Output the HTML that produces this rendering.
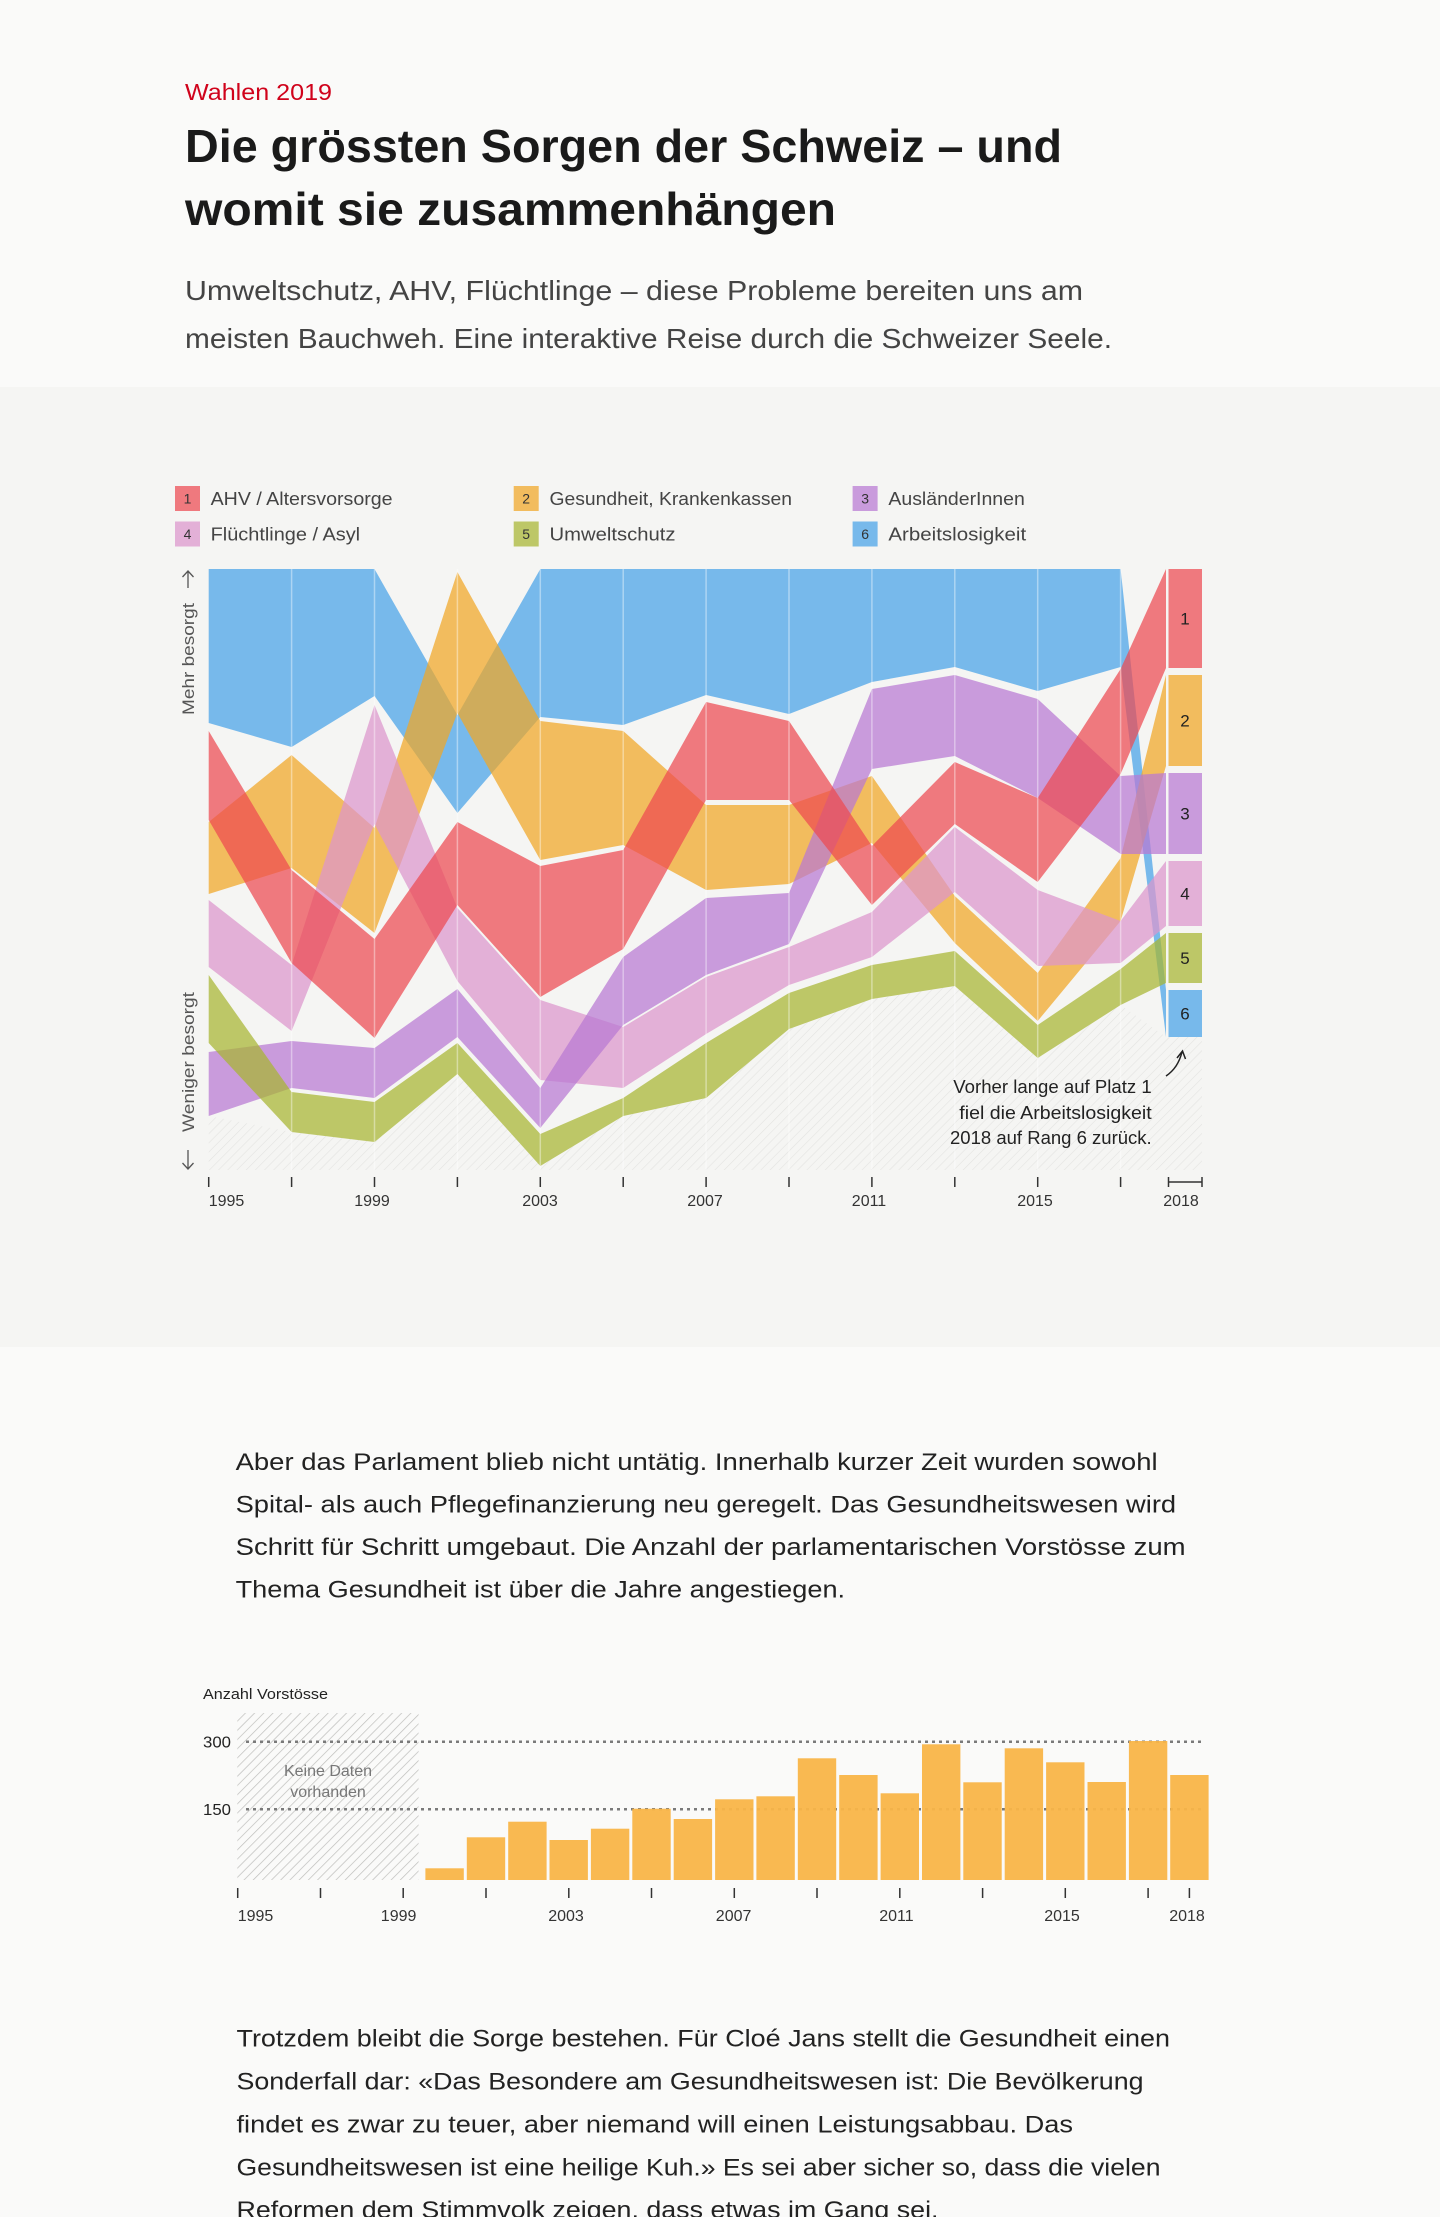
<!DOCTYPE html>
<html><head><meta charset="utf-8"><style>html,body{margin:0;padding:0;background:#fafaf9;}svg{display:block}</style></head>
<body>
<svg width="1440" height="2217" viewBox="0 0 1440 2217" xmlns="http://www.w3.org/2000/svg" font-family="'Liberation Sans', sans-serif">
<defs>
<pattern id="h1" width="6.5" height="6.5" patternUnits="userSpaceOnUse" patternTransform="rotate(45)"><line x1="0" y1="0" x2="0" y2="6.5" stroke="#e3e3e1" stroke-width="1.2"/></pattern>
<pattern id="h2" width="6.5" height="6.5" patternUnits="userSpaceOnUse" patternTransform="rotate(45)"><line x1="0" y1="0" x2="0" y2="6.5" stroke="#bdbdbb" stroke-width="1.4"/></pattern>
</defs>
<rect width="1440" height="2217" fill="#fafaf9"/>
<rect y="387" width="1440" height="960" fill="#f5f5f3"/>

<!-- Header -->
<text x="185" y="100" font-size="23" fill="#d0021b" textLength="147" lengthAdjust="spacingAndGlyphs">Wahlen 2019</text>
<text x="185" y="162" font-size="46" font-weight="bold" fill="#1a1a1a" textLength="877" lengthAdjust="spacingAndGlyphs">Die grössten Sorgen der Schweiz – und</text>
<text x="185" y="225" font-size="46" font-weight="bold" fill="#1a1a1a" textLength="651" lengthAdjust="spacingAndGlyphs">womit sie zusammenhängen</text>
<text x="185" y="300" font-size="28" fill="#444" textLength="898" lengthAdjust="spacingAndGlyphs">Umweltschutz, AHV, Flüchtlinge – diese Probleme bereiten uns am</text>
<text x="185" y="348" font-size="28" fill="#444" textLength="927" lengthAdjust="spacingAndGlyphs">meisten Bauchweh. Eine interaktive Reise durch die Schweizer Seele.</text>

<!-- Legend -->
<g font-size="18" fill="#444">
<rect x="175" y="486" width="25" height="25" fill="rgb(237,73,80)" fill-opacity="0.72"/>
<rect x="513.7" y="486" width="25" height="25" fill="rgb(241,166,36)" fill-opacity="0.72"/>
<rect x="852.6" y="486" width="25" height="25" fill="rgb(185,120,210)" fill-opacity="0.72"/>
<rect x="175" y="521.5" width="25" height="25" fill="rgb(221,149,204)" fill-opacity="0.72"/>
<rect x="513.7" y="521.5" width="25" height="25" fill="rgb(167,181,48)" fill-opacity="0.72"/>
<rect x="852.6" y="521.5" width="25" height="25" fill="rgb(71,162,232)" fill-opacity="0.72"/>
<text x="210.6" y="505" textLength="182" lengthAdjust="spacingAndGlyphs">AHV / Altersvorsorge</text>
<text x="549.5" y="505" textLength="242.5" lengthAdjust="spacingAndGlyphs">Gesundheit, Krankenkassen</text>
<text x="888.4" y="505" textLength="136.4" lengthAdjust="spacingAndGlyphs">AusländerInnen</text>
<text x="210.6" y="540.5" textLength="149.5" lengthAdjust="spacingAndGlyphs">Flüchtlinge / Asyl</text>
<text x="549.5" y="540.5" textLength="126" lengthAdjust="spacingAndGlyphs">Umweltschutz</text>
<text x="888.4" y="540.5" textLength="137.8" lengthAdjust="spacingAndGlyphs">Arbeitslosigkeit</text>
</g>
<g font-size="14" fill="#333" text-anchor="middle">
<text x="187.5" y="503.5">1</text><text x="526.2" y="503.5">2</text><text x="865.1" y="503.5">3</text>
<text x="187.5" y="539">4</text><text x="526.2" y="539">5</text><text x="865.1" y="539">6</text>
</g>

<!-- Left axis labels -->
<g fill="#555" font-size="17">
<text transform="translate(194,715) rotate(-90)" textLength="112" lengthAdjust="spacingAndGlyphs">Mehr besorgt</text>
<text transform="translate(194,1132) rotate(-90)" textLength="140" lengthAdjust="spacingAndGlyphs">Weniger besorgt</text>
</g>
<g stroke="#555" stroke-width="1.3" fill="none">
<path d="M188,588 V571 M182.5,577 L188,571 L193.5,577"/>
<path d="M188,1150 V1169 M182.5,1163 L188,1169 L193.5,1163"/>
</g>

<!-- Hatch area -->
<polygon points="208.7,1116 291.6,1132 374.5,1142 457.4,1074 540.3,1166 623.2,1116 706.1,1098 789,1029 871.9,999 954.8,986 1037.7,1058 1120.6,1005 1166,1037 1202,1037 1202,1170 208.7,1170" fill="url(#h1)"/>

<!-- Bands -->
<g fill-opacity="0.72">
<polygon fill="rgb(71,162,232)" points="208.7,569 291.6,569 374.5,569 457.4,715 540.3,569 623.2,569 706.1,569 789,569 871.9,569 954.8,569 1037.7,569 1120.6,569 1166,990 1166,1037 1120.6,667 1037.7,691 954.8,667 871.9,682 789,714 706.1,695 623.2,725 540.3,717 457.4,813 374.5,696 291.6,747 208.7,723"/>
<polygon fill="rgb(241,166,36)" points="208.7,822 291.6,755 374.5,828 457.4,572 540.3,721 623.2,731 706.1,805 789,805 871.9,776 954.8,896 1037.7,973 1120.6,858 1166,675 1166,766 1120.6,921 1037.7,1021 954.8,943 871.9,843 789,884 706.1,890 623.2,845 540.3,860 457.4,713 374.5,933 291.6,868 208.7,894"/>
<polygon fill="rgb(221,149,204)" points="208.7,900 291.6,965 374.5,705 457.4,908 540.3,1000 623.2,1027 706.1,977 789,947 871.9,912 954.8,827 1037.7,890 1120.6,921 1166,861 1166,926 1120.6,963 1037.7,966 954.8,892 871.9,957 789,985 706.1,1034 623.2,1088 540.3,1080 457.4,981 374.5,824 291.6,1031 208.7,967"/>
<polygon fill="rgb(185,120,210)" points="208.7,1052 291.6,1041 374.5,1048 457.4,989 540.3,1088 623.2,957 706.1,898 789,893 871.9,689 954.8,675 1037.7,699 1120.6,776 1166,773 1166,854 1120.6,854 1037.7,798 954.8,756 871.9,769 789,944 706.1,975 623.2,1025 540.3,1128 457.4,1037 374.5,1098 291.6,1088 208.7,1116"/>
<polygon fill="rgb(167,181,48)" points="208.7,975 291.6,1092 374.5,1102 457.4,1043 540.3,1134 623.2,1098 706.1,1043 789,993 871.9,965 954.8,951 1037.7,1025 1120.6,969 1166,933 1166,983 1120.6,1005 1037.7,1058 954.8,986 871.9,999 789,1029 706.1,1098 623.2,1116 540.3,1166 457.4,1074 374.5,1142 291.6,1132 208.7,1043"/>
<polygon fill="rgb(237,73,80)" points="208.7,731 291.6,870 374.5,939 457.4,822 540.3,866 623.2,850 706.1,702 789,721 871.9,846 954.8,762 1037.7,798 1120.6,669 1166,569 1166,668 1120.6,774 1037.7,882 954.8,824 871.9,905 789,800 706.1,800 623.2,949 540.3,997 457.4,905 374.5,1038 291.6,963 208.7,820"/>
</g>

<!-- vertical grid lines -->
<g stroke="#ffffff" stroke-opacity="0.4" stroke-width="1.5">
<line x1="291.6" y1="569" x2="291.6" y2="1170"/><line x1="374.5" y1="569" x2="374.5" y2="1170"/><line x1="457.4" y1="569" x2="457.4" y2="1170"/><line x1="540.3" y1="569" x2="540.3" y2="1170"/><line x1="623.2" y1="569" x2="623.2" y2="1170"/><line x1="706.1" y1="569" x2="706.1" y2="1170"/><line x1="789" y1="569" x2="789" y2="1170"/><line x1="871.9" y1="569" x2="871.9" y2="1170"/><line x1="954.8" y1="569" x2="954.8" y2="1170"/><line x1="1037.7" y1="569" x2="1037.7" y2="1170"/><line x1="1120.6" y1="569" x2="1120.6" y2="1170"/>
</g>

<!-- 2018 boxes -->
<g fill-opacity="0.72">
<rect x="1168.5" y="569" width="33.5" height="99" fill="rgb(237,73,80)"/>
<rect x="1168.5" y="675" width="33.5" height="91" fill="rgb(241,166,36)"/>
<rect x="1168.5" y="773" width="33.5" height="81" fill="rgb(185,120,210)"/>
<rect x="1168.5" y="861" width="33.5" height="65" fill="rgb(221,149,204)"/>
<rect x="1168.5" y="933" width="33.5" height="50" fill="rgb(167,181,48)"/>
<rect x="1168.5" y="990" width="33.5" height="47" fill="rgb(71,162,232)"/>
</g>
<g font-size="17" fill="#222" text-anchor="middle">
<text x="1185" y="624.5">1</text><text x="1185" y="726.5">2</text><text x="1185" y="819.5">3</text><text x="1185" y="899.5">4</text><text x="1185" y="964">5</text><text x="1185" y="1019.5">6</text>
</g>

<!-- annotation -->
<g font-size="18" fill="#222">
<text x="953.3" y="1093" textLength="198.4" lengthAdjust="spacingAndGlyphs">Vorher lange auf Platz 1</text>
<text x="959.3" y="1119" textLength="192.4" lengthAdjust="spacingAndGlyphs">fiel die Arbeitslosigkeit</text>
<text x="950" y="1144" textLength="201.7" lengthAdjust="spacingAndGlyphs">2018 auf Rang 6 zurück.</text>
</g>
<g stroke="#222" stroke-width="1.5" fill="none">
<path d="M1166,1076 Q1178,1068 1182,1052"/>
<path d="M1177,1058 L1182.5,1051 L1185.5,1059"/>
</g>

<!-- x axis -->
<g stroke="#333" stroke-width="1.5">
<line x1="208.7" y1="1177" x2="208.7" y2="1187"/><line x1="291.6" y1="1177" x2="291.6" y2="1187"/><line x1="374.5" y1="1177" x2="374.5" y2="1187"/><line x1="457.4" y1="1177" x2="457.4" y2="1187"/><line x1="540.3" y1="1177" x2="540.3" y2="1187"/><line x1="623.2" y1="1177" x2="623.2" y2="1187"/><line x1="706.1" y1="1177" x2="706.1" y2="1187"/><line x1="789" y1="1177" x2="789" y2="1187"/><line x1="871.9" y1="1177" x2="871.9" y2="1187"/><line x1="954.8" y1="1177" x2="954.8" y2="1187"/><line x1="1037.7" y1="1177" x2="1037.7" y2="1187"/><line x1="1120.6" y1="1177" x2="1120.6" y2="1187"/>
<line x1="1168.5" y1="1177" x2="1168.5" y2="1187"/><line x1="1202" y1="1177" x2="1202" y2="1187"/><line x1="1168.5" y1="1182" x2="1202" y2="1182"/>
</g>
<g font-size="16" fill="#333" text-anchor="middle">
<text x="208.7" y="1206" text-anchor="start">1995</text>
<text x="372" y="1206">1999</text><text x="540" y="1206">2003</text><text x="705" y="1206">2007</text><text x="869" y="1206">2011</text><text x="1035" y="1206">2015</text><text x="1181" y="1206">2018</text>
</g>

<!-- Paragraph 1 -->
<g font-size="24" fill="#222">
<text x="235.6" y="1470" textLength="922" lengthAdjust="spacingAndGlyphs">Aber das Parlament blieb nicht untätig. Innerhalb kurzer Zeit wurden sowohl</text>
<text x="235.6" y="1512.5" textLength="940.5" lengthAdjust="spacingAndGlyphs">Spital- als auch Pflegefinanzierung neu geregelt. Das Gesundheitswesen wird</text>
<text x="235.6" y="1555" textLength="950" lengthAdjust="spacingAndGlyphs">Schritt für Schritt umgebaut. Die Anzahl der parlamentarischen Vorstösse zum</text>
<text x="235.6" y="1597.5" textLength="609.5" lengthAdjust="spacingAndGlyphs">Thema Gesundheit ist über die Jahre angestiegen.</text>
</g>

<!-- Bar chart -->
<text x="203" y="1699" font-size="15" fill="#222" textLength="125" lengthAdjust="spacingAndGlyphs">Anzahl Vorstösse</text>
<rect x="237.3" y="1713" width="181.3" height="167" fill="url(#h2)"/>
<g font-size="16" fill="#777" text-anchor="middle">
<text x="328" y="1776">Keine Daten</text>
<text x="328" y="1797">vorhanden</text>
</g>
<g font-size="16" fill="#222">
<text x="203" y="1747.5" textLength="28" lengthAdjust="spacingAndGlyphs">300</text>
<text x="203" y="1815" textLength="28" lengthAdjust="spacingAndGlyphs">150</text>
</g>
<g stroke="#7a7a7a" stroke-width="2.5" stroke-dasharray="3 4">
<line x1="246" y1="1741.7" x2="1202" y2="1741.7"/>
<line x1="246" y1="1809.3" x2="1202" y2="1809.3"/>
</g>
<g fill="#f9b548" fill-opacity="0.95">
<rect x="425.4" y="1868.3" width="38.4" height="11.7"/>
<rect x="466.8" y="1837.3" width="38.4" height="42.7"/>
<rect x="508.2" y="1821.7" width="38.4" height="58.3"/>
<rect x="549.5" y="1840" width="38.4" height="40"/>
<rect x="590.9" y="1828.7" width="38.4" height="51.3"/>
<rect x="632.3" y="1808.7" width="38.4" height="71.3"/>
<rect x="673.7" y="1819" width="38.4" height="61"/>
<rect x="715.1" y="1799.3" width="38.4" height="80.7"/>
<rect x="756.4" y="1796.3" width="38.4" height="83.7"/>
<rect x="797.8" y="1758.3" width="38.4" height="121.7"/>
<rect x="839.2" y="1775" width="38.4" height="105"/>
<rect x="880.6" y="1793.3" width="38.4" height="86.7"/>
<rect x="922" y="1744.3" width="38.4" height="135.7"/>
<rect x="963.3" y="1782.3" width="38.4" height="97.7"/>
<rect x="1004.7" y="1748.3" width="38.4" height="131.7"/>
<rect x="1046.1" y="1762.3" width="38.4" height="117.7"/>
<rect x="1087.5" y="1782" width="38.4" height="98"/>
<rect x="1128.9" y="1741" width="38.4" height="139"/>
<rect x="1170.2" y="1775" width="38.4" height="105"/>
</g>
<g stroke="#333" stroke-width="1.5">
<line x1="237.7" y1="1888" x2="237.7" y2="1898"/><line x1="320.5" y1="1888" x2="320.5" y2="1898"/><line x1="403.2" y1="1888" x2="403.2" y2="1898"/><line x1="486" y1="1888" x2="486" y2="1898"/><line x1="568.8" y1="1888" x2="568.8" y2="1898"/><line x1="651.5" y1="1888" x2="651.5" y2="1898"/><line x1="734.3" y1="1888" x2="734.3" y2="1898"/><line x1="817" y1="1888" x2="817" y2="1898"/><line x1="899.8" y1="1888" x2="899.8" y2="1898"/><line x1="982.6" y1="1888" x2="982.6" y2="1898"/><line x1="1065.3" y1="1888" x2="1065.3" y2="1898"/><line x1="1148.1" y1="1888" x2="1148.1" y2="1898"/><line x1="1189.4" y1="1888" x2="1189.4" y2="1898"/>
</g>
<g font-size="16" fill="#333" text-anchor="middle">
<text x="237.7" y="1921" text-anchor="start">1995</text>
<text x="398.6" y="1921">1999</text><text x="566" y="1921">2003</text><text x="733.6" y="1921">2007</text><text x="896.4" y="1921">2011</text><text x="1062" y="1921">2015</text><text x="1187" y="1921">2018</text>
</g>

<!-- Paragraph 2 -->
<g font-size="24" fill="#222">
<text x="236.5" y="2046.5" textLength="933.5" lengthAdjust="spacingAndGlyphs">Trotzdem bleibt die Sorge bestehen. Für Cloé Jans stellt die Gesundheit einen</text>
<text x="236.5" y="2089.5" textLength="907" lengthAdjust="spacingAndGlyphs">Sonderfall dar: «Das Besondere am Gesundheitswesen ist: Die Bevölkerung</text>
<text x="236.5" y="2132.5" textLength="836.5" lengthAdjust="spacingAndGlyphs">findet es zwar zu teuer, aber niemand will einen Leistungsabbau. Das</text>
<text x="236.5" y="2175.5" textLength="924" lengthAdjust="spacingAndGlyphs">Gesundheitswesen ist eine heilige Kuh.» Es sei aber sicher so, dass die vielen</text>
<text x="236.5" y="2218" textLength="702" lengthAdjust="spacingAndGlyphs">Reformen dem Stimmvolk zeigen, dass etwas im Gang sei.</text>
</g>
</svg>
</body></html>
